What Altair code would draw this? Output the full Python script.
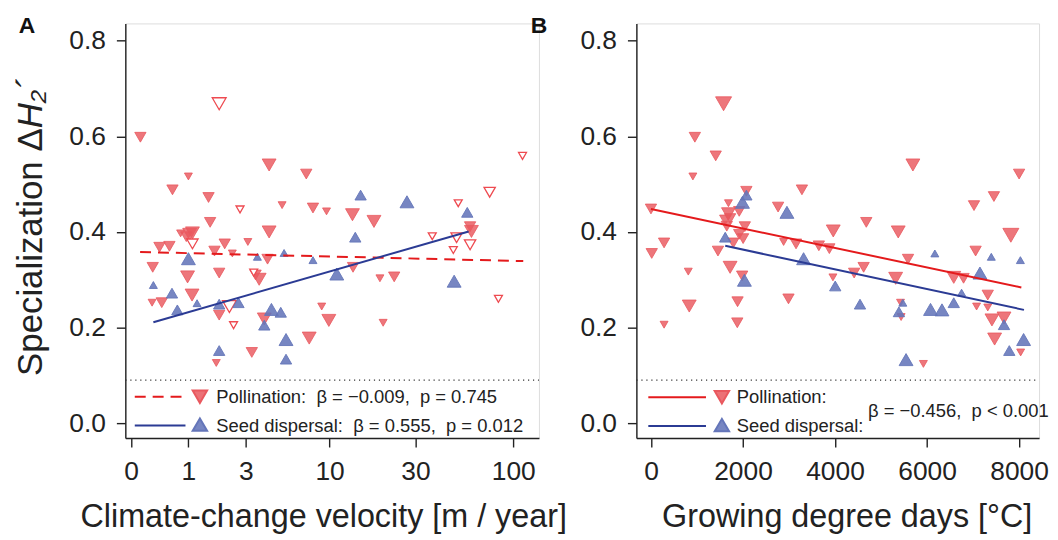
import altair as alt
import pandas as pd

FONT = "Liberation Sans"
INK = "#222222"
RED = "#e9585e"
RED_LINE = "#e41a1c"
BLUE = "#6475b9"
BLUE_LINE = "#2b3b94"

# ---------------- Panel A: climate-change velocity ----------------
a_poll_x = [0.12, 4.3, 7.3, 1.0, 0.65, 1.55, 5.2, 8.0, 1.6, 0.82, 1.03, 1.1, 0.95, 4.3, 3.1, 2.1,
            0.41, 0.59, 1.74, 2.4, 4.2, 0.30, 0.98, 1.9, 3.7, 3.5, 1.09, 0.29, 0.45, 1.9, 4.0,
            7.6, 3.3, 1.8, 9.6, 13.5, 17.8, 59, 60, 13.6, 19.2, 23, 9.0, 9.9, 20]
a_poll_y = [0.598, 0.540, 0.521, 0.516, 0.488, 0.472, 0.456, 0.450, 0.420, 0.397, 0.395, 0.398,
            0.390, 0.400, 0.379, 0.375, 0.368, 0.370, 0.360, 0.355, 0.343, 0.326, 0.306, 0.314,
            0.301, 0.310, 0.268, 0.252, 0.252, 0.226, 0.218, 0.178, 0.148, 0.126, 0.443, 0.436,
            0.422, 0.411, 0.401, 0.326, 0.303, 0.306, 0.244, 0.215, 0.210]
a_poll_s = [2, 3, 2, 1, 2, 2, 1, 2, 2, 1, 3, 3, 2, 3, 1, 2, 2, 2, 2, 1, 2, 2, 3, 2, 3, 2, 3, 1, 2,
            2, 3, 3, 2, 1, 1, 3, 3, 2, 3, 2, 1, 2, 1, 3, 1]

a_hollow_x = [1.9, 2.73, 1.1, 3.4, 2.28, 2.45, 112, 75, 51, 37, 50, 59, 48, 83.5]
a_hollow_y = [0.668, 0.447, 0.375, 0.315, 0.244, 0.205, 0.559, 0.483, 0.460, 0.391, 0.388,
              0.373, 0.362, 0.260]
a_hollow_s = [3, 1, 2, 1, 3, 1, 1, 2, 1, 1, 2, 2, 1, 1]

a_seed_x = [1.0, 3.6, 5.35, 8.0, 0.31, 0.64, 0.75, 1.22, 1.9, 2.66, 4.45, 5.1, 4.0, 5.5, 1.9,
            5.5, 15.0, 27.0, 57, 11, 48.5, 14]
a_seed_y = [0.344, 0.348, 0.356, 0.341, 0.289, 0.272, 0.237, 0.251, 0.249, 0.252, 0.238, 0.232,
            0.205, 0.175, 0.152, 0.134, 0.477, 0.463, 0.441, 0.312, 0.297, 0.389]
a_seed_s = [3, 1, 1, 1, 1, 2, 2, 1, 2, 2, 3, 2, 2, 3, 2, 2, 2, 3, 2, 3, 3, 2]

a_fit_poll_x = [0.116, 113]
a_fit_poll_y = [0.358, 0.339]
a_fit_seed_x = [0.31, 58]
a_fit_seed_y = [0.211, 0.401]

# ---------------- Panel B: growing degree days ----------------
b_poll_x = [1578, 954, 1407, 911, 2074, 1684, 1918, 1684, 1614, 1720, 0, 2040, 1648, 1918, 2003,
            1790, 285, 17, 1456, 1720, 811, 1982, 832, 1882, 1876, 285, 3281, 2763, 4680, 3962,
            5374, 2883, 3153, 3649, 3877, 4622, 4416, 5318, 3955, 2989, 5424, 5437, 5693, 8001,
            7454, 7021, 7822, 7056, 5587, 6581, 6794, 7320, 7077, 7320, 7411, 7673, 7469, 8035,
            5921]
b_poll_y = [0.668, 0.598, 0.559, 0.516, 0.485, 0.460, 0.443, 0.438, 0.425, 0.428, 0.448, 0.411,
            0.412, 0.395, 0.386, 0.377, 0.377, 0.355, 0.360, 0.326, 0.317, 0.308, 0.245, 0.254,
            0.210, 0.206, 0.488, 0.452, 0.420, 0.402, 0.400, 0.379, 0.375, 0.371, 0.365, 0.326,
            0.314, 0.303, 0.305, 0.260, 0.252, 0.222, 0.540, 0.521, 0.474, 0.455, 0.393, 0.360,
            0.343, 0.305, 0.303, 0.268, 0.244, 0.242, 0.216, 0.220, 0.176, 0.148, 0.124]
b_poll_s = [4, 2, 2, 1, 2, 1, 2, 3, 2, 2, 2, 2, 2, 2, 2, 2, 2, 2, 2, 3, 1, 2, 3, 2, 2, 1, 2, 2, 2,
            3, 3, 1, 2, 2, 2, 2, 2, 3, 1, 2, 1, 1, 3, 2, 2, 2, 4, 2, 2, 3, 2, 2, 1, 1, 3, 3, 3, 1, 1]

b_seed_x = [1989, 2074, 1614, 2031, 2955, 3317, 4005, 4543, 5389, 5474, 6170, 7397, 8029, 7150,
            6751, 6581, 6076, 6325, 7673, 8099, 7788, 5544]
b_seed_y = [0.462, 0.477, 0.389, 0.299, 0.441, 0.344, 0.287, 0.249, 0.233, 0.252, 0.355, 0.348,
            0.341, 0.314, 0.273, 0.252, 0.238, 0.237, 0.206, 0.175, 0.152, 0.133]
b_seed_s = [3, 2, 2, 3, 3, 3, 2, 2, 2, 1, 1, 1, 1, 3, 1, 2, 3, 3, 2, 3, 2, 3]

b_fit_poll_x = [0, 8050]
b_fit_poll_y = [0.448, 0.284]
b_fit_seed_x = [1614, 8107]
b_fit_seed_y = [0.371, 0.237]

y_ticks = [0.0, 0.2, 0.4, 0.6, 0.8]
a_ticks = [0, 1, 3, 10, 30, 100]
b_ticks = [0, 2000, 4000, 6000, 8000]

HEIGHT = 417
WA = 416
WB = 405
Y_DOMAIN = [-0.031, 0.836]
NULL_LEVEL = 0.09

size_scale = alt.Scale(type="linear", domain=[1, 4], range=[64, 260], zero=False)


def df(xs, ys, ss=None):
    d = {"x": xs, "y": ys}
    if ss is not None:
        d["s"] = ss
    return pd.DataFrame(d)


def panel(xscale, xaxis, yaxis, poll, hollow, seed, fit_p, fit_s, dashed, width,
          leg, stats_text=None, poll_text="", seed_text="", extra=None):
    X = alt.X("x:Q", scale=xscale, axis=xaxis)
    Y = alt.Y("y:Q", scale=alt.Scale(domain=Y_DOMAIN, nice=False, zero=False), axis=yaxis)
    S = alt.Size("s:Q", scale=size_scale, legend=None)

    layers = []
    layers.append(
        alt.Chart(pd.DataFrame({"y": [NULL_LEVEL]})).mark_rule(
            color="#333333", strokeDash=[1.2, 3.8], strokeWidth=1.4
        ).encode(y=Y, x=alt.value(0), x2=alt.value(width))
    )
    layers.append(
        alt.Chart(poll).mark_point(shape="triangle-down", filled=True, fill=RED,
                                   fillOpacity=0.82, stroke=RED, strokeWidth=0.9,
                                   strokeOpacity=0.9)
        .encode(x=X, y=Y, size=S)
    )
    if hollow is not None:
        layers.append(
            alt.Chart(hollow).mark_point(shape="triangle-down", filled=False, fill="white",
                                         fillOpacity=1, stroke="#ee4a50", strokeWidth=1.3)
            .encode(x=X, y=Y, size=S)
        )
    layers.append(
        alt.Chart(seed).mark_point(shape="triangle-up", filled=True, fill=BLUE,
                                   fillOpacity=0.88, stroke=BLUE, strokeWidth=0.9)
        .encode(x=X, y=Y, size=S)
    )
    line_kw = {"strokeDash": [11, 7]} if dashed else {}
    layers.append(alt.Chart(fit_p).mark_line(color=RED_LINE, strokeWidth=2, **line_kw)
                  .encode(x=X, y=Y))
    layers.append(alt.Chart(fit_s).mark_line(color=BLUE_LINE, strokeWidth=2)
                  .encode(x=X, y=Y))

    # hand-built legend
    lx0, lx1, tx, txt, r1, r2 = leg
    base = alt.Chart(pd.DataFrame({"k": [0]}))
    layers.append(base.mark_rule(color=RED_LINE, strokeWidth=2, **line_kw).encode(
        x=alt.value(lx0), x2=alt.value(lx1), y=alt.value(r1)))
    layers.append(base.mark_rule(color=BLUE_LINE, strokeWidth=2).encode(
        x=alt.value(lx0), x2=alt.value(lx1), y=alt.value(r2)))
    layers.append(base.mark_point(shape="triangle-down", filled=True, fill=RED, fillOpacity=0.85,
                                  stroke=RED, size=210).encode(x=alt.value(tx), y=alt.value(r1)))
    layers.append(base.mark_point(shape="triangle-up", filled=True, fill=BLUE, fillOpacity=0.88,
                                  stroke=BLUE, size=210).encode(x=alt.value(tx), y=alt.value(r2 - 1)))
    tkw = dict(font=FONT, fontSize=18.5, color=INK, align="left", baseline="middle")
    layers.append(base.mark_text(text=poll_text, **tkw).encode(x=alt.value(txt), y=alt.value(r1)))
    layers.append(base.mark_text(text=seed_text, **tkw).encode(x=alt.value(txt), y=alt.value(r2)))
    if stats_text is not None:
        sx, sy, st = stats_text
        layers.append(base.mark_text(text=st, **tkw).encode(x=alt.value(sx), y=alt.value(sy)))
    if extra is not None:
        layers.extend(extra)
    return alt.layer(*layers).properties(width=width, height=HEIGHT)


common_axis = dict(domainColor=INK, domainWidth=1.4, tickColor=INK, tickWidth=1.4, tickSize=9,
                   labelFont=FONT, labelFontSize=26.5, labelColor=INK, grid=False,
                   titleFont=FONT, titleFontSize=32.5, titleFontWeight="normal", titleColor=INK)

yaxis_a = alt.Axis(values=y_ticks, format=".1f", labelPadding=11, title=None, **common_axis)
yaxis_b = alt.Axis(values=y_ticks, format=".1f", labelPadding=11, title=None, **common_axis)

xaxis_a = alt.Axis(values=a_ticks, format="d", labelPadding=12, labelFlush=False,
                   title="Climate-change velocity [m / year]", titlePadding=15,
                   titleX=199, **common_axis)
xaxis_b = alt.Axis(values=b_ticks, format="d", labelPadding=12, labelFlush=False,
                   title="Growing degree days [°C]", titlePadding=15,
                   titleX=WB / 2 + 9, **common_axis)

lab_kw = dict(font=FONT, fontSize=23, fontWeight="bold", color="#111111",
              align="center", baseline="alphabetic")
lab_base = alt.Chart(pd.DataFrame({"k": [0]}))

# y-axis title drawn as two rotated text pieces so that "H" can be italic
ytitle_kw = dict(font=FONT, fontSize=35, color=INK, align="left", baseline="alphabetic",
                 angle=270)
YT_X = -83.5
YT_Y0 = 354.5
YT_W1 = 249
extras_a = [
    lab_base.mark_text(text="A", **lab_kw).encode(x=alt.value(-99), y=alt.value(9.5)),
    lab_base.mark_text(text="B", **lab_kw).encode(x=alt.value(416), y=alt.value(9.5)),
    lab_base.mark_text(text="Specialization Δ", **ytitle_kw).encode(
        x=alt.value(YT_X), y=alt.value(YT_Y0)),
    lab_base.mark_text(text="H₂´", fontStyle="italic", **ytitle_kw).encode(
        x=alt.value(YT_X), y=alt.value(YT_Y0 - YT_W1)),
]

NB = "\u00a0"
chart_a = panel(
    alt.Scale(type="symlog", constant=1, domain=[-0.071, 136.8], nice=False, zero=False),
    xaxis_a, yaxis_a,
    df(a_poll_x, a_poll_y, a_poll_s), df(a_hollow_x, a_hollow_y, a_hollow_s),
    df(a_seed_x, a_seed_y, a_seed_s),
    df(a_fit_poll_x, a_fit_poll_y), df(a_fit_seed_x, a_fit_seed_y), True, WA,
    (9.5, 60.5, 75, 91.5, 375.5, 404.5),
    poll_text=f"Pollination:{NB}{NB}β = −0.009,{NB}{NB}p = 0.745",
    seed_text=f"Seed dispersal:{NB}{NB}β = 0.555,{NB}{NB}p = 0.012",
    extra=extras_a,
)

chart_b = panel(
    alt.Scale(domain=[-317, 8435], nice=False, zero=False),
    xaxis_b, yaxis_b,
    df(b_poll_x, b_poll_y, b_poll_s), None, df(b_seed_x, b_seed_y, b_seed_s),
    df(b_fit_poll_x, b_fit_poll_y), df(b_fit_seed_x, b_fit_seed_y), False, WB,
    (12, 70, 86, 101, 376, 405),
    stats_text=(233, 390, f"β = −0.456,{NB}{NB}p < 0.001"),
    poll_text="Pollination:", seed_text="Seed dispersal:",
)

chart = alt.hconcat(chart_a, chart_b, spacing=11).configure_view(stroke=None).configure(
    font=FONT).properties(padding={"left": 5, "right": 0, "top": 5, "bottom": 0})

chart.save("out.html", embed_options={"renderer": "svg", "actions": False})
